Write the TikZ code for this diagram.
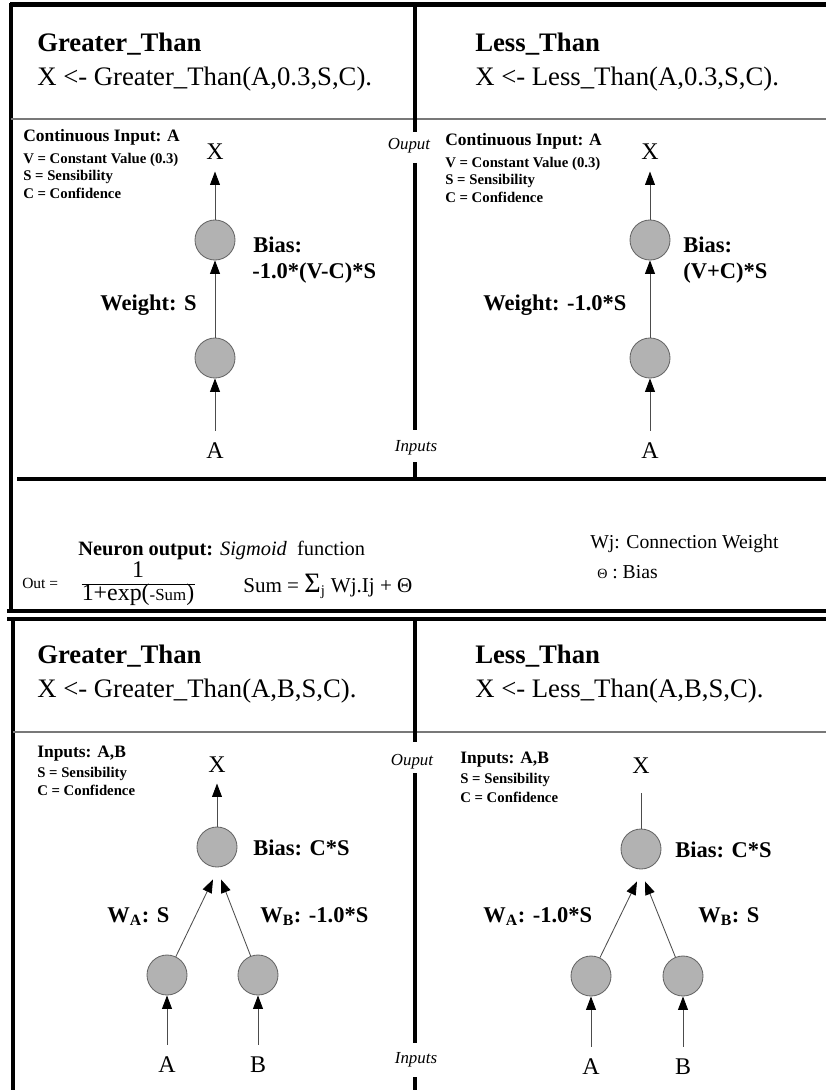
\documentclass[tikz,border=0pt]{standalone}
\usepackage{fontspec}
\setmainfont{Liberation Serif}
\usetikzlibrary{arrows.meta,calc,positioning}
\definecolor{cellGray}{RGB}{178,178,178}
\definecolor{ruleGray}{RGB}{120,120,120}

\begin{document}
\begin{tikzpicture}[
      x=0.025cm, y=-0.025cm,
      >={Triangle[length=9.5pt,width=7pt,color=black]},
      frame/.style={line width=2.85pt},
      thinrule/.style={ruleGray, line width=0.8pt},
      neuron/.style={circle, draw=black!60, line width=0.6pt, fill=cellGray, minimum size=1cm, inner sep=0pt},
      wire/.style={black!70, line width=0.6pt},
      title/.style={anchor=base west, inner sep=0pt, font=\bfseries\fontsize{19}{22}\selectfont},
      call/.style={anchor=base west, inner sep=0pt, font=\fontsize{19}{22}\selectfont},
      infohead/.style={anchor=base west, inner sep=0pt, font=\bfseries\fontsize{12.4}{14}\selectfont},
      infoline/.style={anchor=base west, inner sep=0pt, font=\bfseries\fontsize{10.5}{12}\selectfont},
      var/.style={anchor=base, inner sep=8pt, font=\fontsize{17}{20}\selectfont},
      param/.style={anchor=base west, inner sep=0pt, font=\bfseries\fontsize{16}{19}\selectfont},
      side/.style={anchor=base, inner sep=0pt, font=\itshape\fontsize{12}{14}\selectfont},
      txt/.style={anchor=base west, inner sep=0pt, font=\fontsize{14}{16}\selectfont}
    ]
    \useasboundingbox (0,0) rectangle (826,1090);

    % -------- FRAMES --------
    \draw[frame] (10,4.5) -- (826,4.5);
    \draw[frame] (11,3) -- (11,612);
    \draw[thinrule] (11,119) -- (826,119);
    \draw[frame] (17,479) -- (826,479);
    \draw[frame] (7,610.5) -- (826,610.5);
    \draw[frame] (415,3) -- (415,132);
    \draw[frame] (415,163) -- (415,430);
    \draw[frame] (415,462) -- (415,479);

    \draw[frame] (7,619) -- (826,619);
    \draw[frame] (13,619) -- (13,1090);
    \draw[thinrule] (13,732) -- (826,732);
    \draw[frame] (415,619) -- (415,742);
    \draw[frame] (415,773) -- (415,1043);
    \draw[frame] (415,1077) -- (415,1090);

    \node[side] (outSide1) at (409,150) {Ouput};
    \node[side] (inSide1) at (416,451) {Inputs};
    \node[side] (outSide2) at (412,765) {Ouput};
    \node[side] (inSide2) at (416,1063) {Inputs};

    % -------- TOP LEFT: Greater_Than(A,0.3,S,C) --------
    \node[title] (gtTitle1) at (37,52) {Greater\_Than};
    \node[call] (gtCall1) at (37,86) {X <- Greater\_Than(A,0.3,S,C).};

    \node[infohead] (gtInfo1) at (23,142) {Continuous Input: A};
    \node[infoline] (gtV1) at (23,164) {V = Constant Value (0.3)};
    \node[infoline] (gtS1) at (23,181) {S = Sensibility};
    \node[infoline] (gtC1) at (23,198) {C = Confidence};

    \node[var] (gtX1) at (215,160) {X};
    \node[neuron] (gtSum1) at (215,240) {};
    \node[neuron] (gtIn1) at (215,358) {};
    \node[var] (gtA1) at (215,458) {A};

    \node[param] (gtBias1) at (253,252) {Bias:};
    \node[param] (gtBiasVal1) at (252,278) {-1.0*(V-C)*S};
    \node[param] (gtW1) at (100,310) {Weight: S};

    \draw[wire,->] (gtSum1) -- (gtX1);
    \draw[wire,->] (gtIn1) -- (gtSum1);
    \draw[wire,->] (gtA1) -- (gtIn1);

    % -------- TOP RIGHT: Less_Than(A,0.3,S,C) --------
    \node[title] (ltTitle1) at (475,52) {Less\_Than};
    \node[call] (ltCall1) at (475,86) {X <- Less\_Than(A,0.3,S,C).};

    \node[infohead] (ltInfo1) at (445,146) {Continuous Input: A};
    \node[infoline] (ltV1) at (445,168) {V = Constant Value (0.3)};
    \node[infoline] (ltS1) at (445,185) {S = Sensibility};
    \node[infoline] (ltC1) at (445,202) {C = Confidence};

    \node[var] (ltX1) at (650,160) {X};
    \node[neuron] (ltSum1) at (650,240) {};
    \node[neuron] (ltIn1) at (650,358) {};
    \node[var] (ltA1) at (650,458) {A};

    \node[param] (ltBias1) at (683,252) {Bias:};
    \node[param] (ltBiasVal1) at (683,278) {(V+C)*S};
    \node[param] (ltW1) at (483,310) {Weight: -1.0*S};

    \draw[wire,->] (ltSum1) -- (ltX1);
    \draw[wire,->] (ltIn1) -- (ltSum1);
    \draw[wire,->] (ltA1) -- (ltIn1);

    % -------- SIGMOID BOX --------
    \node[txt, font=\fontsize{14.5}{17}\selectfont] (sigLine) at (78,555)
      {\textbf{Neuron output:} \textit{Sigmoid}\ \ function};
    \node[txt, font=\fontsize{11}{13}\selectfont] (outEq) at (22,588) {Out =};
    \node[anchor=base, inner sep=0pt, font=\fontsize{17}{20}\selectfont] (fracNum) at (138,577) {1};
    \node[anchor=base, inner sep=0pt, font=\fontsize{17}{20}\selectfont] (fracDen) at (138,600)
      {1+exp({\fontsize{12}{14}\selectfont-Sum})};
    \draw[line width=0.7pt] (fracDen.west |- 0,584) -- (fracDen.east |- 0,584);
    \node[txt, font=\fontsize{15}{18}\selectfont] (sumEq) at (243,592)
      {Sum = {\fontsize{20}{22}\selectfont Σ}\textsubscript{j} Wj.Ij + Θ};

    \node[txt] (wjLine) at (590,548) {Wj: Connection Weight};
    \node[txt] (thetaLine) at (597,578) {{\fontsize{10}{12}\selectfont Θ} : Bias};

    % -------- BOTTOM LEFT: Greater_Than(A,B,S,C) --------
    \node[title] (gtTitle2) at (37,663) {Greater\_Than};
    \node[call] (gtCall2) at (37,697) {X <- Greater\_Than(A,B,S,C).};

    \node[infohead] (gtInfo2) at (37,757) {Inputs: A,B};
    \node[infoline] (gtS2) at (37,777) {S = Sensibility};
    \node[infoline] (gtC2) at (37,795) {C = Confidence};

    \node[var] (gtX2) at (217,772) {X};
    \node[neuron] (gtSum2) at (217,847) {};
    \node[neuron] (gtInA2) at (167,975) {};
    \node[neuron] (gtInB2) at (258,975) {};
    \node[var] (gtA2) at (167,1072) {A};
    \node[var] (gtB2) at (258,1072) {B};

    \node[param] (gtBias2) at (253,855) {Bias: C*S};
    \node[param] (gtWA2) at (107,922) {W\textsubscript{A}: S};
    \node[param] (gtWB2) at (260,922) {W\textsubscript{B}: -1.0*S};

    \coordinate (gtJoinA2) at ($(gtSum2.south)+(-4,12)$);
    \coordinate (gtJoinB2) at ($(gtSum2.south)+(4,12)$);
    \draw[wire,->] (gtSum2) -- (gtX2);
    \draw[wire,->] (gtInA2) -- (gtJoinA2);
    \draw[wire,->] (gtInB2) -- (gtJoinB2);
    \draw[wire,->] (gtA2) -- (gtInA2);
    \draw[wire,->] (gtB2) -- (gtInB2);

    % -------- BOTTOM RIGHT: Less_Than(A,B,S,C) --------
    \node[title] (ltTitle2) at (475,663) {Less\_Than};
    \node[call] (ltCall2) at (475,697) {X <- Less\_Than(A,B,S,C).};

    \node[infohead] (ltInfo2) at (460,763) {Inputs: A,B};
    \node[infoline] (ltS2) at (460,783) {S = Sensibility};
    \node[infoline] (ltC2) at (460,802) {C = Confidence};

    \node[var] (ltX2) at (641,773) {X};
    \node[neuron] (ltSum2) at (641,849) {};
    \node[neuron] (ltInA2) at (591,976) {};
    \node[neuron] (ltInB2) at (683,976) {};
    \node[var] (ltA2) at (591,1074) {A};
    \node[var] (ltB2) at (683,1074) {B};

    \node[param] (ltBias2) at (675,857) {Bias: C*S};
    \node[param] (ltWA2) at (483,922) {W\textsubscript{A}: -1.0*S};
    \node[param] (ltWB2) at (698,922) {W\textsubscript{B}: S};

    \coordinate (ltJoinA2) at ($(ltSum2.south)+(-4,12)$);
    \coordinate (ltJoinB2) at ($(ltSum2.south)+(4,12)$);
    \draw[wire, shorten >=6pt] (ltSum2) -- (ltX2);
    \draw[wire,->] (ltInA2) -- (ltJoinA2);
    \draw[wire,->] (ltInB2) -- (ltJoinB2);
    \draw[wire,->] (ltA2) -- (ltInA2);
    \draw[wire,->] (ltB2) -- (ltInB2);

\end{tikzpicture}
\end{document}
